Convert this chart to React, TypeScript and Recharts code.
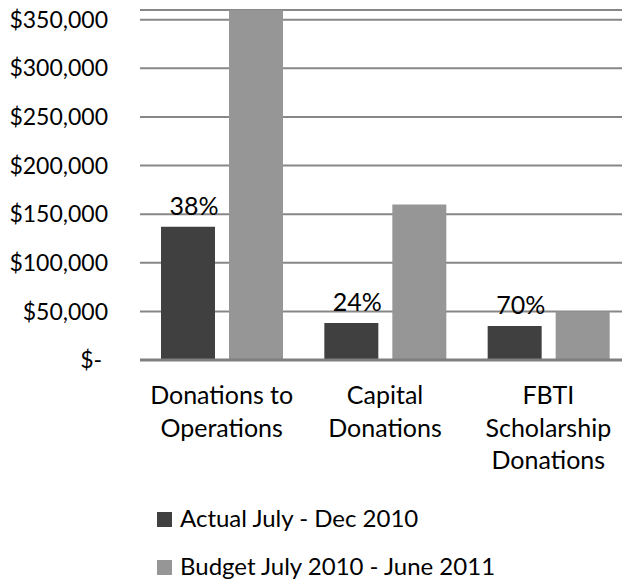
import { BarChart, Bar, XAxis, YAxis, CartesianGrid, Legend, LabelList } from "recharts";

const categories = ["Donations to\nOperations", "Capital\nDonations", "FBTI\nScholarship\nDonations"];
const actual = [137000, 38000, 35000];
const budget = [360000, 160000, 50000];
const pctLabels = ["38%", "24%", "70%"];
const yTicks = [0, 50000, 100000, 150000, 200000, 250000, 300000, 350000];
const seriesNames = ["Actual July - Dec 2010", "Budget July 2010 - June 2011"];
const seriesColors = ["#404040", "#969696"];

const data = categories.map((name, i) => ({
  name,
  actual: actual[i],
  budget: budget[i],
  pct: pctLabels[i],
}));

const FONT = "Lato, 'Open Sans', sans-serif";

const money = (v: number) => (v === 0 ? "$-\u00a0" : "$" + v.toLocaleString("en-US"));

function CategoryTick({ x, y, payload }: any) {
  const lines = String(payload.value).split("\n");
  return (
    <text x={x} y={y + 44} textAnchor="middle" fontFamily={FONT} fontSize={25} fill="#000">
      {lines.map((l, i) => (
        <tspan key={i} x={x} dy={i === 0 ? 0 : 32.5}>
          {l}
        </tspan>
      ))}
    </text>
  );
}

function LegendBox() {
  return (
    <svg width={630} height={92} style={{ display: "block" }}>
      {seriesNames.map((n, i) => (
        <g key={n}>
          <rect x={157} y={20 + i * 48} width={15} height={15} fill={seriesColors[i]} />
          <text x={180} y={35 + i * 48} fontFamily={FONT} fontSize={24} fill="#000">
            {n}
          </text>
        </g>
      ))}
    </svg>
  );
}

export default function App() {
  // pull the chart over the body's 8px margin so it fills the 630x584 window
  return (
    <div style={{ width: 630, height: 584, margin: "-8px 0 0 -8px", fontFamily: FONT }}>
      <BarChart
        width={630}
        height={584}
        data={data}
        margin={{ top: 10, right: 0, left: 0, bottom: 0 }}
        barCategoryGap={21}
        barGap={14}
      >
        <CartesianGrid vertical={false} stroke="#878787" strokeWidth={2} />
        <XAxis
          dataKey="name"
          interval={0}
          height={132}
          tickLine={false}
          tickSize={0}
          tickMargin={0}
          axisLine={{ stroke: "#7f7f7f", strokeWidth: 3 }}
          tick={<CategoryTick />}
        />
        <YAxis
          width={140}
          domain={[0, 360000]}
          ticks={yTicks}
          interval={0}
          axisLine={false}
          tickLine={false}
          tickSize={0}
          tickMargin={32}
          tickFormatter={money}
          tick={{ fontSize: 23, fill: "#000", fontFamily: FONT }}
        />
        <Legend verticalAlign="bottom" height={92} content={() => <LegendBox />} />
        <Bar dataKey="actual" name={seriesNames[0]} fill={seriesColors[0]} isAnimationActive={false}>
          <LabelList dataKey="pct" position="top" offset={12} dx={6} fill="#000" fontSize={25} fontFamily={FONT} />
        </Bar>
        <Bar dataKey="budget" name={seriesNames[1]} fill={seriesColors[1]} isAnimationActive={false} />
      </BarChart>
    </div>
  );
}
